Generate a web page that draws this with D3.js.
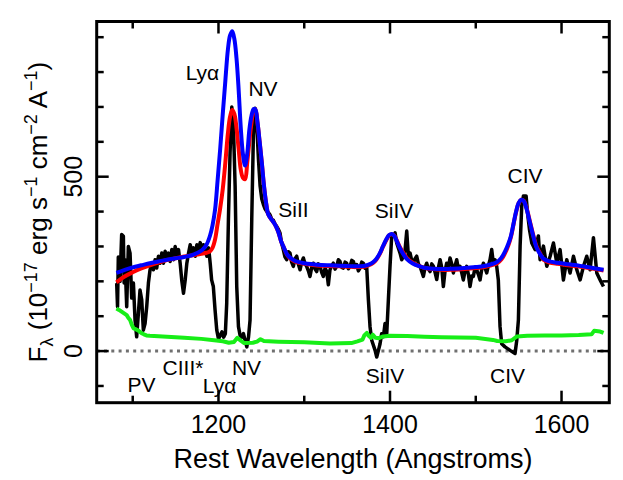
<!DOCTYPE html>
<html><head><meta charset="utf-8">
<script src="https://cdn.jsdelivr.net/npm/d3@7"></script>
<style>html,body{margin:0;padding:0;background:#fff;} svg{display:block;font-family:"Liberation Sans",Arial,Helvetica,sans-serif;}</style>
</head><body><svg id="chart" width="623" height="480"></svg>
<script>
// ---------- data ----------
const waveBlack = [1081.3,1082.3,1083.2,1085.2,1087.1,1089.1,1090.0,1091.0,1093.0,1094.9,1096.9,1098.8,1100.8,1102.7,1104.6,1106.6,1108.5,1110.5,1112.4,1114.4,1116.3,1118.3,1120.2,1122.2,1124.1,1126.1,1128.0,1130.0,1131.9,1133.9,1135.8,1137.8,1139.7,1141.7,1143.6,1145.6,1147.5,1149.5,1151.4,1153.4,1155.3,1157.3,1159.2,1161.2,1163.1,1165.1,1167.0,1169.0,1170.9,1172.9,1174.8,1176.8,1178.7,1180.7,1182.6,1184.6,1186.5,1188.5,1190.4,1192.0,1194.0,1196.0,1198.0,1200.0,1202.0,1204.0,1206.0,1208.0,1209.6,1211.6,1213.5,1215.5,1217.4,1219.4,1221.3,1223.3,1225.2,1227.2,1229.1,1231.0,1233.0,1235.0,1236.8,1238.8,1240.7,1242.7,1244.6,1246.6,1248.5,1250.5,1252.4,1254.4,1256.3,1258.3,1260.2,1262.1,1264.0,1266.0,1268.0,1269.9,
1271.7,1273.6,1275.6,1277.5,1279.5,1281.4,1283.4,1285.3,1287.3,1289.2,1291.2,1293.1,1295.1,1297.0,1299.0,1300.9,1302.8,1304.8,1306.7,1308.7,1310.6,1312.6,1314.5,1316.5,1318.4,1320.4,1322.3,1324.3,1326.2,1328.1,1330.0,1332.0,1333.9,1335.9,1337.8,1339.8,1341.7,1343.7,1345.6,1347.6,1349.5,1351.5,1353.4,1355.4,1357.3,1359.3,1361.2,1363.1,1365.0,1367.0,1368.9,1370.9,1372.8,
1374.8,1376.7,1378.7,1382.6,1384.5,1386.5,1388.4,1390.3,1392.3,1394.2,1396.2,1398.1,1400.0,1402.0,1403.9,1405.9,1407.8,1409.8,1411.7,1413.7,1415.6,1417.6,1419.5,1421.4,1423.4,1425.3,1427.2,1429.2,1431.1,1433.1,1435.0,1437.0,1438.9,1440.9,1442.8,1444.8,1446.7,1448.7,1450.6,1452.6,1454.5,1456.5,
1458.4,1460.3,1462.2,1464.2,1466.1,1468.0,1470.0,1472.0,1473.9,1475.9,1477.8,1479.7,1481.6,1483.6,1485.5,1487.5,1489.4,1491.4,1493.3,1495.3,1497.2,1499.2,1501.1,1503.0,1505.0,1507.0,1508.9,1510.9,1512.8,1514.7,1516.6,1518.6,1520.5,1522.5,1524.4,1526.3,1528.3,1530.2,1534.1,1540.0,1545.8,1547.8,1549.7,1551.7,1553.6,1555.6,1558.7,1560.3,1562.6,1565.3,1569.1,1573.0,1575.0,1578.9,1582.8,1586.7,1590.6,1594.5,1598.3,1602.2,1606.1,1610.0,1613.9,1617.8,1621.7,1625.6,1629.4,1633.3,1637.2,1641.1,1645.0,1648.9];
const fluxBlack = [195,127,270,200,334,329,195,262,127,300,281,152,195,89,41,108,175,147,60,79,127,195,233,252,233,262,238,272,252,281,252,286,262,281,257,291,262,300,272,291,252,200,166,204,252,281,305,281,296,272,305,286,311,281,305,291,272,296,250,204,185,118,60,35,45,55,40,50,137,378,570,700,648,474,185,70,45,40,50,31,12,40,89,378,619,696,650,551,474,436,420,407,400,397,390,378,375,364,357,349,
339,310,291,270,262,285,281,255,243,265,272,250,233,255,267,250,243,230,214,240,252,235,228,250,243,225,214,238,228,190,233,245,252,235,243,262,257,240,238,255,252,236,243,260,257,240,248,230,238,255,252,238,243,
147,70,31,2,-17,2,21,50,41,79,50,147,243,330,330,339,310,295,281,262,272,290,344,272,281,260,252,265,272,250,243,228,214,240,252,235,228,250,243,225,205,240,
262,240,185,230,252,240,267,250,224,245,262,235,243,225,204,230,243,220,185,215,214,240,233,220,204,235,252,238,224,245,262,291,252,262,243,204,70,21,12,2,-7,31,89,301,416,445,445,397,349,310,291,330,262,301,243,272,310,252,291,204,262,224,272,233,204,243,272,233,325,224,204,185];

const waveBlue = [1081,1090,1100,1110,1120,1130,1140,1150,1160,1168,1175,1181,1186,1190,1193,1196,1199,1202,1205,1208,1211,1213.5,1216,1218.5,1221,1223.5,1226,1228.5,1231,1233.5,1236,1238.5,1241,1243,1245.5,1248,1250.5,1253,1255.5,1258,1261,1264,1267,1270,1273,1276,1280,1285,1290,1300,1310,1320,1330,1340,1350,1360,1369,1375,1380,1384,1388,1392,1396,1399,1402,1405,1408,1411,1415,1420,1426,1433,1440,1450,1460,1470,1480,1490,1500,1510,1518,1525,1530,1534,1538,1541,1544,1547,1550,1553,1556,1559,1563,1567,1571,1575,1579,1586,1595,1605,1615,1625,1635,1642,1649];
const fluxBlue = [224,232,240,246,252,257,262,266,270,274,281,290,305,330,360,405,490,580,680,775,865,905,917,895,840,750,640,565,532,565,635,675,694,693,655,600,541,475,425,392,380,370,358,340,315,298,277,265,258,252,249,247,246,245,244,243,244,248,254,264,280,302,322,333,336,330,315,298,280,263,252,244,239,236,235,236,237,239,241,244,249,256,268,285,308,330,365,400,425,434,430,410,370,330,296,278,265,257,253,250,247,243,239,236,233];

const waveRed = [1081,1090,1100,1110,1120,1130,1140,1150,1160,1170,1180,1186,1190,1193,1196,1199,1202,1205,1208,1211,1213.5,1216,1218.5,1221,1223.5,1226,1228.5,1231,1233.5,1236,1238.5,1241,1243,1245.5,1248,1250.5,1253,1255.5,1258,1261,1264,1267,1270,1273,1276,1280,1285,1290,1300,1310,1320,1330,1340,1350,1360,1369,1375,1380,1384,1388,1392,1396,1399,1402,1405,1408,1411,1415,1420,1426,1433,1440,1450,1460,1470,1480,1490,1500,1510,1518,1525,1530,1534,1538,1541,1544,1547,1550,1553,1556,1559,1563,1567,1571,1575,1579,1586,1595,1605,1615,1625,1635,1642,1649];
const fluxRed = [197,213,226,237,246,254,261,266,271,275,279,282,286,296,320,365,410,465,540,625,672,691,680,640,580,520,497,493,540,600,655,690,693,655,600,541,475,425,392,380,370,358,340,315,298,276,263,256,250,247,245,244,243,242,241,242,246,252,262,278,300,320,332,335,331,317,301,284,266,254,245,239,235,233,233,234,236,238,241,246,252,263,280,303,327,363,398,424,434,431,412,373,333,299,280,262,254,250,247,244,241,237,234,231];

const waveGreen = [1081,1084,1087,1090,1093,1095,1097,1099,1101,1104,1107,1110,1113,1116,1120,1140,1160,1180,1195,1205,1212,1218,1222,1226,1230,1240,1245,1249,1253,1270,1300,1330,1355,1362,1368,1370,1373,1375,1378,1380,1383,1387,1392,1400,1420,1440,1460,1480,1500,1520,1525,1535,1542,1548,1560,1580,1600,1620,1635,1638,1645,1649];
const fluxGreen = [122,118,113,108,103,95,89,75,65,62,58,52,48,45,44,41,38,35,31,28,24,26,38,30,23,24,27,34,29,27,25,22,23,28,33,45,52,44,38,47,38,37,42,44,43,41,40,39,38,32,29,28,31,42,44,45,45,46,48,58,56,52];

const xTicks = [1100,1200,1300,1400,1500,1600];
const xLabels = [1200,1400,1600];
const yTicks = [-100,0,100,200,300,400,500,600,700,800,900];
const yLabels = [0,500];

const lineText = ["Lyα","NV","SiII","SiIV","CIV","PV","CIII*","Lyα","NV","SiIV","CIV"];
const lineWave = [1181.3,1251.9,1287.5,1404.7,1557.4,1110.2,1158.6,1201.2,1232.7,1394.2,1537.0];
const lineFlux = [777,731,384,381,481,-118,-70,-121,-70,-92,-92];

// ---------- layout ----------
const svg = d3.select("#chart");
const P = {left:96.7, right:609.3, top:21.5, bottom:402.7};
const x = d3.scaleLinear().domain([1058,1655.7]).range([P.left,P.right]);
const y = d3.scaleLinear().domain([-148,945]).range([P.bottom,P.top]);

svg.append("defs").append("clipPath").attr("id","clip")
  .append("rect").attr("x",P.left).attr("y",P.top).attr("width",P.right-P.left).attr("height",P.bottom-P.top);

const g = svg.append("g").attr("clip-path","url(#clip)");

// zero line
g.append("line").attr("x1",P.left).attr("x2",P.right).attr("y1",y(0)).attr("y2",y(0))
  .attr("stroke","#707070").attr("stroke-width",3).attr("stroke-dasharray","3,4.3");

const lin = d3.line().x(d=>x(d[0])).y(d=>y(d[1]));
const smooth = d3.line().x(d=>x(d[0])).y(d=>y(d[1])).curve(d3.curveCatmullRom.alpha(0.5));

g.append("path").datum(d3.zip(waveBlack,fluxBlack)).attr("d",lin)
  .attr("fill","none").attr("stroke","#000").attr("stroke-width",3.5).attr("stroke-linejoin","round");
g.append("path").datum(d3.zip(waveGreen,fluxGreen)).attr("d",lin)
  .attr("fill","none").attr("stroke","#17ee17").attr("stroke-width",4).attr("stroke-linejoin","round");
g.append("path").datum(d3.zip(waveRed,fluxRed)).attr("d",smooth)
  .attr("fill","none").attr("stroke","#ff0000").attr("stroke-width",4).attr("stroke-linejoin","round");
g.append("path").datum(d3.zip(waveBlue,fluxBlue)).attr("d",smooth)
  .attr("fill","none").attr("stroke","#0000ff").attr("stroke-width",4).attr("stroke-linejoin","round");

// ticks (inward) on all 4 sides
const tk = svg.append("g").attr("stroke","#000").attr("stroke-width",2.5);
xTicks.forEach(v=>{
  const L = xLabels.includes(v)?12:7;
  tk.append("line").attr("x1",x(v)).attr("x2",x(v)).attr("y1",P.bottom).attr("y2",P.bottom-L);
  tk.append("line").attr("x1",x(v)).attr("x2",x(v)).attr("y1",P.top).attr("y2",P.top+L);
});
yTicks.forEach(v=>{
  const L = yLabels.includes(v)?12:7;
  tk.append("line").attr("y1",y(v)).attr("y2",y(v)).attr("x1",P.left).attr("x2",P.left+L);
  tk.append("line").attr("y1",y(v)).attr("y2",y(v)).attr("x1",P.right).attr("x2",P.right-L);
});

// box
svg.append("rect").attr("x",P.left).attr("y",P.top).attr("width",P.right-P.left).attr("height",P.bottom-P.top)
  .attr("fill","none").attr("stroke","#000").attr("stroke-width",3);

// tick labels
svg.selectAll(".xl").data(xLabels).enter().append("text")
  .attr("x",d=>x(d)).attr("y",433).attr("text-anchor","middle").attr("font-size",25).text(d=>d);
svg.selectAll(".yl").data(yLabels).enter().append("text")
  .attr("transform",d=>`translate(82,${y(d)}) rotate(-90)`).attr("text-anchor","middle").attr("font-size",25).text(d=>d);

// axis titles
svg.append("text").attr("x",(P.left+P.right)/2).attr("y",468).attr("text-anchor","middle")
  .attr("font-size",27).text("Rest Wavelength (Angstroms)");

const yt = svg.append("text").attr("transform",`translate(47,${(P.top+P.bottom)/2}) rotate(-90)`)
  .attr("text-anchor","middle").attr("font-size",26);
yt.append("tspan").text("F");
yt.append("tspan").attr("font-size",18).attr("dy",6).text("λ");
yt.append("tspan").attr("dy",-6).text(" (10");
yt.append("tspan").attr("font-size",18).attr("dy",-10).text("−17");
yt.append("tspan").attr("dy",10).text(" erg s");
yt.append("tspan").attr("font-size",18).attr("dy",-10).text("−1");
yt.append("tspan").attr("dy",10).text(" cm");
yt.append("tspan").attr("font-size",18).attr("dy",-10).text("−2");
yt.append("tspan").attr("dy",10).text(" A");
yt.append("tspan").attr("font-size",18).attr("dy",-10).text("−1");
yt.append("tspan").attr("dy",10).text(")");

// line identifications
svg.selectAll(".lab").data(d3.range(lineText.length)).enter().append("text")
  .attr("x",i=>x(lineWave[i])).attr("y",i=>y(lineFlux[i])).attr("text-anchor","middle")
  .attr("font-size",21).text(i=>lineText[i]);
</script></body></html>
